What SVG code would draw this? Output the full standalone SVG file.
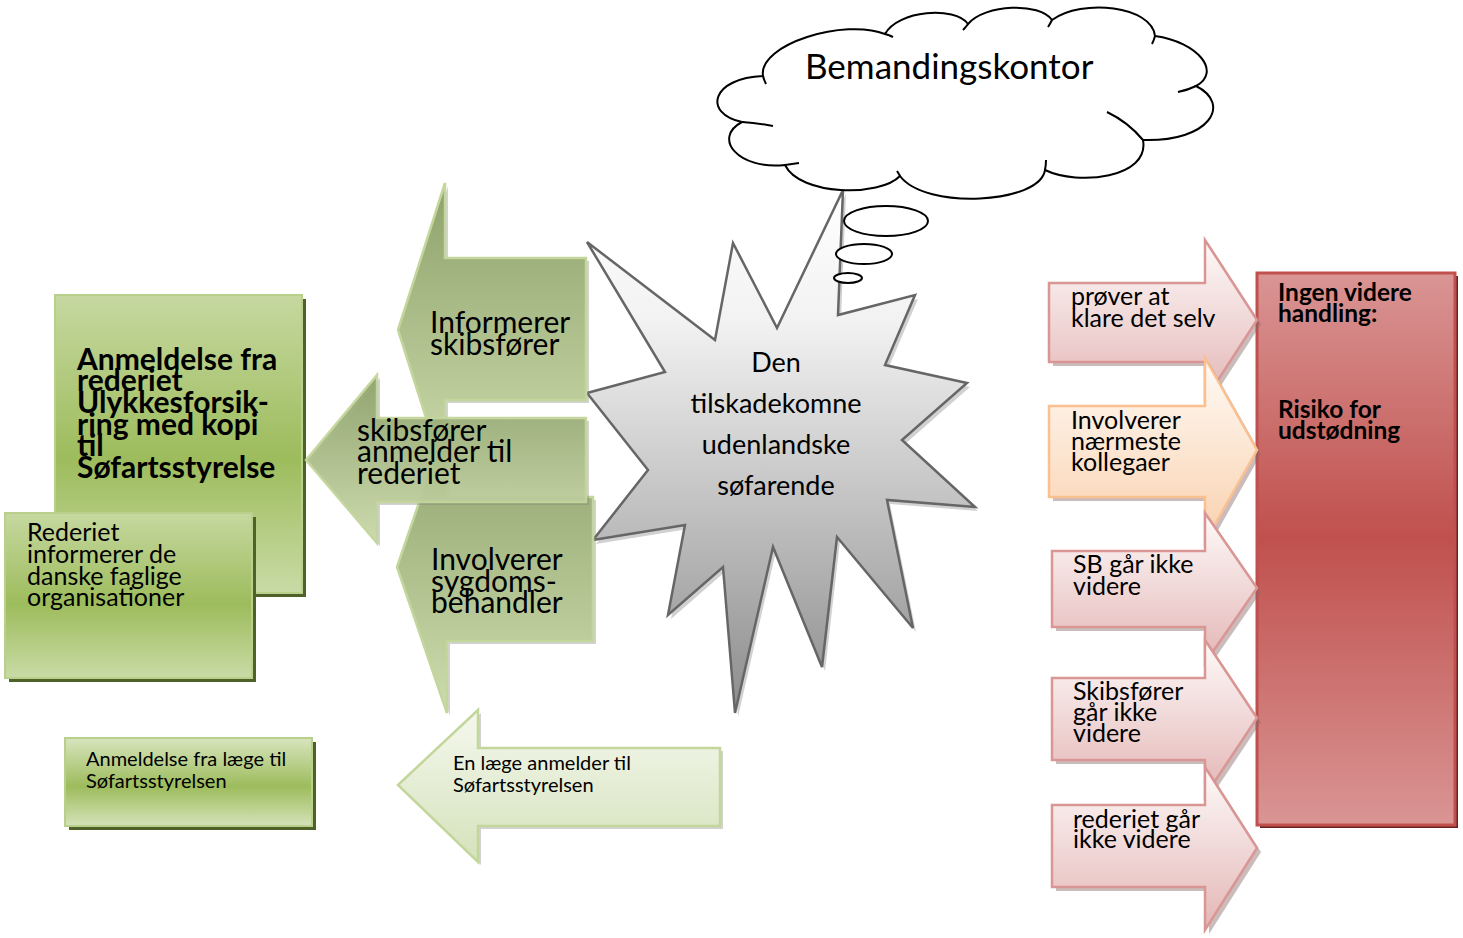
<svg xmlns="http://www.w3.org/2000/svg" width="1463" height="938" viewBox="0 0 1463 938">
<defs>
<linearGradient id="gBox" x1="0" y1="0" x2="0" y2="1"><stop offset="0" stop-color="#c6d8a0"/><stop offset="0.55" stop-color="#9dbc5c"/><stop offset="1" stop-color="#c9dba6"/></linearGradient>
<linearGradient id="gMid" x1="0" y1="0" x2="0" y2="1"><stop offset="0" stop-color="#8ea26b"/><stop offset="1" stop-color="#cddcad"/></linearGradient>
<linearGradient id="gLight" x1="0" y1="0" x2="0" y2="1"><stop offset="0" stop-color="#f5f8ee"/><stop offset="1" stop-color="#d5e2bb"/></linearGradient>
<linearGradient id="gSmall" x1="0" y1="0" x2="0" y2="1"><stop offset="0" stop-color="#d8e5be"/><stop offset="0.55" stop-color="#9dbc5c"/><stop offset="1" stop-color="#d5e3b9"/></linearGradient>
<linearGradient id="gPink" x1="0" y1="0" x2="0" y2="1"><stop offset="0" stop-color="#fefafa"/><stop offset="1" stop-color="#e3b6b5"/></linearGradient>
<linearGradient id="gOrange" x1="0" y1="0" x2="0" y2="1"><stop offset="0" stop-color="#fffaf6"/><stop offset="1" stop-color="#f9d1ae"/></linearGradient>
<linearGradient id="gRed" x1="0" y1="0" x2="0" y2="1"><stop offset="0" stop-color="#d99594"/><stop offset="0.48" stop-color="#c0504d"/><stop offset="1" stop-color="#d99594"/></linearGradient>
<linearGradient id="gStar" x1="0" y1="0" x2="0" y2="1"><stop offset="0" stop-color="#ffffff"/><stop offset="0.25" stop-color="#f2f2f2"/><stop offset="1" stop-color="#8c8c8c"/></linearGradient>
<style>
text{font-family:Lato,"Open Sans","Liberation Sans",sans-serif;fill:#000}
.bold{font-weight:bold}
.gbox{fill:url(#gBox);stroke:#b9cf8c;stroke-width:2}
.gshadow{fill:#4f6228}
.mid{fill:url(#gMid);stroke:#c3d69b;stroke-width:2.5;stroke-linejoin:miter}
.midsh{fill:#7f7f7f;opacity:0.35}
.light{fill:url(#gLight);stroke:#c3d69b;stroke-width:2.5}
.pink{fill:url(#gPink);stroke:#d99694;stroke-width:2.5}
.orange{fill:url(#gOrange);stroke:#fac090;stroke-width:2.5}
.rsh{fill:#8c6b6b;opacity:0.45}
.cloud{fill:#fff;stroke:#000;stroke-width:2}
.hook{fill:none;stroke:#000;stroke-width:2}
</style>
</defs>

<g id="starburst">
<polygon transform="translate(3,4)" fill="#bdbdbd" opacity="0.7" points="587,242 715,340 733,243 777,328 843,190 838,315 915,295 885,365 967,383 902,440 975,507 887,500 913,628 837,537 822,667 773,547 735,713 723,567 668,615 685,525 593,540 648,470 587,393 665,372"/>
<polygon fill="url(#gStar)" stroke="#666" stroke-width="2.5" stroke-linejoin="miter" points="587,242 715,340 733,243 777,328 843,190 838,315 915,295 885,365 967,383 902,440 975,507 887,500 913,628 837,537 822,667 773,547 735,713 723,567 668,615 685,525 593,540 648,470 587,393 665,372"/>
<text font-size="27" text-anchor="middle" x="776" y="372">Den</text>
<text font-size="27" text-anchor="middle" x="776" y="413">tilskadekomne</text>
<text font-size="27" text-anchor="middle" x="776" y="454">udenlandske</text>
<text font-size="27" text-anchor="middle" x="776" y="495">søfarende</text>
</g>

<g id="cloud">
<path class="cloud" d="M763,76 C758,44 845,18 885,34 C898,10 955,6 968,24 C985,4 1040,2 1052,20 C1082,-2 1152,6 1155,36 C1198,42 1222,72 1196,86 C1232,104 1210,142 1143,140 C1150,178 1078,186 1045,170 C1040,204 925,210 900,176 C880,197 800,196 785,165 C738,170 712,138 742,122 C702,113 712,78 763,76 Z"/>
<path class="hook" d="M763,76 Q764,80 766,84 M885,34 Q889,35 893,37 M968,24 Q966,27 963,30 M1052,20 Q1050,24 1048,27 M1155,36 Q1154,40 1152,44 M1196,86 Q1188,90 1178,92 M1143,140 Q1128,122 1107,112 M1045,170 Q1046,165 1046,160 M900,176 Q899,174 897,171 M785,165 Q792,164 799,163 M742,122 Q758,123 773,126"/>
<ellipse class="cloud" cx="886" cy="221" rx="42" ry="15"/>
<ellipse class="cloud" cx="864" cy="254" rx="28" ry="10"/>
<ellipse class="cloud" cx="848" cy="278" rx="14" ry="5"/>
<text font-size="35" x="805" y="79">Bemandingskontor</text>
</g>

<g id="box-anmeldelse-rederiet">
<rect class="gshadow" x="59" y="299" width="247" height="298"/>
<rect class="gbox" x="55" y="295" width="247" height="298"/>
<g class="bold" font-size="30">
<text x="77" y="370">Anmeldelse fra</text>
<text x="77" y="391">rederiet</text>
<text x="77" y="413">Ulykkesforsik-</text>
<text x="77" y="435">ring med kopi</text>
<text x="77" y="456">til</text>
<text x="77" y="478">Søfartsstyrelse</text>
</g>
</g>

<g id="box-rederiet-informerer">
<rect class="gshadow" x="9" y="517" width="247" height="165"/>
<rect class="gbox" x="5" y="513" width="247" height="165"/>
<g font-size="25">
<text x="27" y="541">Rederiet</text>
<text x="27" y="563">informerer de</text>
<text x="27" y="585">danske faglige</text>
<text x="27" y="606">organisationer</text>
</g>
</g>

<g id="box-anmeldelse-laege">
<rect class="gshadow" x="69" y="742" width="247" height="88"/>
<rect x="65" y="738" width="247" height="88" fill="url(#gSmall)" stroke="#b9cf8c" stroke-width="2"/>
<text font-size="20" x="86" y="766">Anmeldelse fra læge til</text>
<text font-size="20" x="86" y="788">Søfartsstyrelsen</text>
</g>

<g id="connectors">
<g id="arrow-informerer">
<path class="midsh" transform="translate(3,3)" d="M398,330 L445,183 L445,258 L586,258 L586,400 L445,400 L445,477 Z"/>
<path class="mid" d="M398,330 L445,183 L445,258 L586,258 L586,400 L445,400 L445,477 Z"/>
<text font-size="30" x="430" y="333">Informerer</text>
<text font-size="30" x="430" y="355">skibsfører</text>
</g>
<g id="arrow-involverer">
<path class="midsh" transform="translate(3,3)" d="M397,567 L447,421 L447,497 L593,497 L593,641 L447,641 L447,713 Z"/>
<path class="mid" d="M397,567 L447,421 L447,497 L593,497 L593,641 L447,641 L447,713 Z"/>
<text font-size="30" x="431" y="570">Involverer</text>
<text font-size="30" x="431" y="592">sygdoms-</text>
<text font-size="30" x="431" y="613">behandler</text>
</g>
<g id="arrow-anmelder">
<path class="midsh" transform="translate(3,3)" d="M306,460 L377,375 L377,418 L586,418 L586,502 L377,502 L377,543 Z"/>
<path class="mid" opacity="0.95" d="M306,460 L377,375 L377,418 L586,418 L586,502 L377,502 L377,543 Z"/>
<text font-size="30" x="357" y="441">skibsfører</text>
<text font-size="30" x="357" y="462">anmelder til</text>
<text font-size="30" x="357" y="484">rederiet</text>
</g>
<g id="arrow-laege">
<path class="midsh" transform="translate(3,3)" d="M398,785 L478,710 L478,748 L720,748 L720,826 L478,826 L478,862 Z"/>
<path class="light" d="M398,785 L478,710 L478,748 L720,748 L720,826 L478,826 L478,862 Z"/>
<text font-size="20" x="453" y="770">En læge anmelder til</text>
<text font-size="20" x="453" y="792">Søfartsstyrelsen</text>
</g>
</g>

<g id="box-ingen-videre">
<rect x="1260" y="276" width="198" height="552" fill="#6b2321"/>
<rect x="1257" y="273" width="198" height="552" fill="url(#gRed)" stroke="#c0504d" stroke-width="3"/>
<g class="bold" font-size="24.5">
<text x="1278" y="301">Ingen videre</text>
<text x="1278" y="322">handling:</text>
<text x="1278" y="418">Risiko for</text>
<text x="1278" y="439">udstødning</text>
</g>
</g>

<g id="right-arrows">
<g id="arrow-proever">
<path class="rsh" transform="translate(4,4)" d="M1049,283 L1205,283 L1205,240 L1257,320 L1205,400 L1205,362 L1049,362 Z"/>
<path class="pink" d="M1049,283 L1205,283 L1205,240 L1257,320 L1205,400 L1205,362 L1049,362 Z"/>
<text font-size="25" x="1071" y="305">prøver at</text>
<text font-size="25" x="1071" y="327">klare det selv</text>
</g>
<g id="arrow-kollegaer">
<path class="rsh" transform="translate(4,4)" d="M1049,406 L1205,406 L1205,358 L1257,450 L1205,542 L1205,497 L1049,497 Z"/>
<path class="orange" d="M1049,406 L1205,406 L1205,358 L1257,450 L1205,542 L1205,497 L1049,497 Z"/>
<text font-size="25" x="1071" y="429">Involverer</text>
<text font-size="25" x="1071" y="450">nærmeste</text>
<text font-size="25" x="1071" y="471">kollegaer</text>
</g>
<g id="arrow-sb">
<path class="rsh" transform="translate(4,4)" d="M1052,551 L1205,551 L1205,513 L1257,588 L1205,663 L1205,627 L1052,627 Z"/>
<path class="pink" d="M1052,551 L1205,551 L1205,513 L1257,588 L1205,663 L1205,627 L1052,627 Z"/>
<text font-size="25" x="1073" y="573">SB går ikke</text>
<text font-size="25" x="1073" y="595">videre</text>
</g>
<g id="arrow-skibsfoerer">
<path class="rsh" transform="translate(4,4)" d="M1052,678 L1205,678 L1205,640 L1257,718 L1205,796 L1205,760 L1052,760 Z"/>
<path class="pink" d="M1052,678 L1205,678 L1205,640 L1257,718 L1205,796 L1205,760 L1052,760 Z"/>
<text font-size="25" x="1073" y="700">Skibsfører</text>
<text font-size="25" x="1073" y="721">går ikke</text>
<text font-size="25" x="1073" y="742">videre</text>
</g>
<g id="arrow-rederiet">
<path class="rsh" transform="translate(4,4)" d="M1052,805 L1205,805 L1205,767 L1257,848 L1205,930 L1205,887 L1052,887 Z"/>
<path class="pink" d="M1052,805 L1205,805 L1205,767 L1257,848 L1205,930 L1205,887 L1052,887 Z"/>
<text font-size="25" x="1073" y="828">rederiet går</text>
<text font-size="25" x="1073" y="848">ikke videre</text>
</g>
</g>
</svg>
